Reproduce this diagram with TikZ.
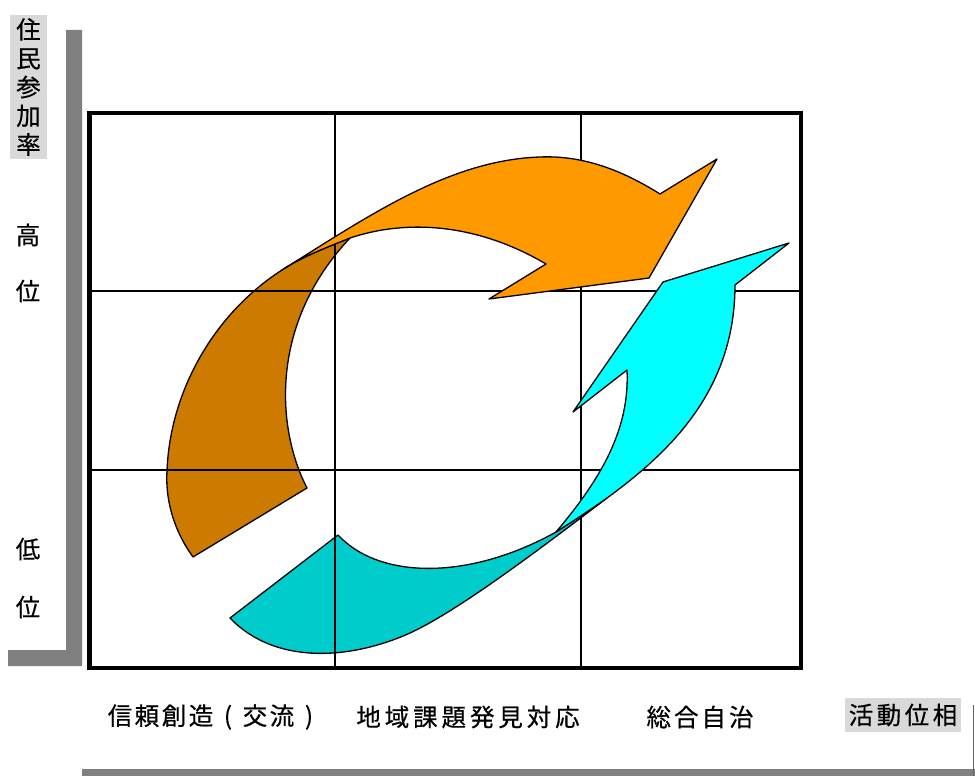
\documentclass[tikz,border=0pt]{standalone}
\usepackage{fontspec}
\newfontfamily\jp[FakeBold=0.5]{Noto Sans CJK JP}
\definecolor{orng}{HTML}{FF9900}
\definecolor{brwn}{HTML}{CC7A00}
\definecolor{cyn}{HTML}{00FFFF}
\definecolor{dcyn}{HTML}{00CCCC}
\definecolor{barg}{HTML}{808080}
\definecolor{lblg}{HTML}{D9D9D9}
\newlength\cellw
\def\cellsaux#1{\ifx#1\relax\else\makebox[\cellw]{#1}\expandafter\cellsaux\fi}
\newcommand\cells[2]{\setlength\cellw{#1}\cellsaux#2\relax}
\begin{document}
\begin{tikzpicture}[x=1pt,y=-1pt,
  shapeline/.style={draw=black,line width=1.3pt,line join=round},
  gridline/.style={draw=black,line width=1.4pt},
  lbl/.style={font=\jp\fontsize{24.5}{28.75}\selectfont, inner sep=0pt, align=center},
]
\useasboundingbox (0,0) rectangle (975,776);
% gray bars
\fill[barg] (66,30) -- (82,30) -- (82,666) -- (8,666) -- (8,650) -- (66,650) -- cycle;
\fill[barg] (82,769) rectangle (975,776);
\draw[black!60, line width=1.5pt] (973.5,705) -- (973.5,776);
% label boxes
\fill[lblg] (10,15) rectangle (47,159);
\fill[lblg] (845,698) rectangle (961,732);
% brown band
\path[shapeline, fill=brwn] (350,238) .. controls (320,250) and (300,258) .. (282,270)
  .. controls (215,313) and (170,390) .. (167,471)
  .. controls (165,505) and (177,535) .. (193,557)
  -- (307,488)
  .. controls (277,430) and (268,325) .. (350,238) -- cycle;
% dark cyan band
\path[shapeline, fill=dcyn] (230,618) -- (338,535)
  .. controls (380,580) and (470,580) .. (556,532)
  -- (607,498)
  .. controls (545,545) and (460,610) .. (410,633)
  .. controls (350,660) and (275,665) .. (230,618) -- cycle;
% grid
\draw[gridline] (335,113) -- (335,668);
\draw[gridline] (581,113) -- (581,668);
\draw[gridline] (89.5,291) -- (801,291);
\draw[gridline] (89.5,470) -- (801,470);
\draw[line width=4.5pt] (89.5,113) rectangle (801,668);
% bright cyan arrow
\path[shapeline, fill=cyn] (556,532) .. controls (575,520) and (590,510) .. (607,498)
  .. controls (670,452) and (735,390) .. (735,285)
  -- (789,243) -- (663,282) -- (573,412) -- (627,370)
  .. controls (630,430) and (600,480) .. (556,532) -- cycle;
% orange arrow
\path[shapeline, fill=orng] (282,270) .. controls (370,215) and (450,160) .. (540,157)
  .. controls (585,155) and (625,172) .. (660,194)
  -- (717,159) -- (649,278) -- (489,299) -- (546,264)
  .. controls (480,225) and (410,218) .. (350,238)
  .. controls (320,250) and (300,258) .. (282,270) -- cycle;
% labels
\node[lbl] (yaxis) at (28.5,87) {住\\民\\参\\加\\率};
\node[lbl] (hi1) at (28,235) {高};
\node[lbl] (hi2) at (28,291) {位};
\node[lbl] (lo1) at (28,549) {低};
\node[lbl] (lo2) at (28,607) {位};
\node[lbl] (p1) at (214.5,717) {\cells{27pt}{信頼創造(交流)}};
\node[lbl] (p2) at (468,717) {\cells{28.4pt}{地域課題発見対応}};
\node[lbl] (p3) at (700,717) {\cells{27.5pt}{総合自治}};
\node[lbl] (p4) at (903,715) {\cells{28pt}{活動位相}};
\end{tikzpicture}
\end{document}
